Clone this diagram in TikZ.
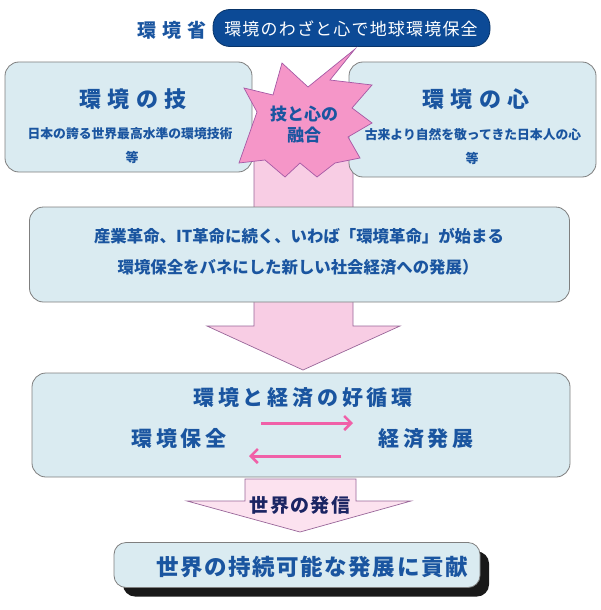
\documentclass[tikz,border=0pt]{standalone}
\usepackage{fontspec}
\setmainfont{Noto Sans CJK JP}
\newfontfamily\jpwide{Noto Sans CJK JP}[LetterSpace=30]
\newfontfamily\jpmid{Noto Sans CJK JP}[LetterSpace=18]
\newfontfamily\jpnarrow{Noto Sans CJK JP}[LetterSpace=7]
\usetikzlibrary{arrows.meta, shadows}
\definecolor{boxblue}{HTML}{DAEBF1}
\definecolor{boxgray}{HTML}{7F7F7F}
\definecolor{txtblue}{HTML}{1A55A0}
\definecolor{navy}{HTML}{1B2563}
\definecolor{banner}{HTML}{0C4A96}
\definecolor{starpink}{HTML}{F596C8}
\definecolor{shaftpink}{HTML}{F8CDE4}
\definecolor{palepink}{HTML}{FCE2EF}
\definecolor{arrowpink}{HTML}{F060A8}
\tikzset{panel/.style={draw=boxgray, fill=boxblue, line width=0.8pt, rounded corners=14pt},
  blockarrow/.style={draw=boxgray!80!magenta, line width=0.7pt, fill=shaftpink},
  lbl/.style={text=txtblue, inner sep=0pt},
  flow/.style={draw=arrowpink, line width=3pt, -{Straight Barb[length=7pt, width=14pt, line width=2.5pt]}}}

\begin{document}
\begin{tikzpicture}[x=1pt, y=-1pt]
\useasboundingbox (0,0) rectangle (600,610);
\draw[blockarrow] (254,150) -- (353,150) -- (353,326) -- (400,326) -- (303,370) -- (207,326) -- (254,326) -- cycle;
\node[lbl, font=\jpwide\bfseries\fontsize{19}{22}\selectfont] (ministry) at (172,30) {環境省};
\node[draw=banner!70!black, fill=banner, rounded corners=17pt, minimum width=277pt, minimum height=37pt, line width=0.8pt] (motto) at (351.5,28) {};
\node[text=white, inner sep=0pt, font=\jpnarrow\fontsize{17}{20}\selectfont] (mottotext) at (351,29) {環境のわざと心で地球環境保全};
\node[panel, minimum width=247pt, minimum height=110pt] (waza) at (128.5,117) {};
\node[lbl, font=\jpwide\bfseries\fontsize{22}{26}\selectfont] (wazatitle) at (133,99) {環境の技};
\node[lbl, font=\bfseries\fontsize{12.8}{15}\selectfont] (wazasub) at (130,134) {日本の誇る世界最高水準の環境技術};
\node[lbl, font=\bfseries\fontsize{13}{15}\selectfont] (wazatou) at (132,157) {等};
\node[panel, minimum width=247pt, minimum height=115pt] (kokoro) at (472.5,119.5) {};
\node[lbl, font=\jpwide\bfseries\fontsize{22}{26}\selectfont] (kokorotitle) at (476,99) {環境の心};
\node[lbl, font=\bfseries\fontsize{12.8}{15}\selectfont] (kokorosub) at (473,135) {古来より自然を敬ってきた日本人の心};
\node[lbl, font=\bfseries\fontsize{13}{15}\selectfont] (kokorotou) at (472,158) {等};
\draw[draw=boxgray!70!magenta, line width=0.7pt, fill=starpink] (355,49) -- (308,87) -- (282,63) -- (273,95) -- (244,88) -- (257,112) -- (239,163) -- (265,160) -- (285,177) -- (300,163) -- (317,177) -- (335,163) -- (360,158) -- (348,137) -- (372,123) -- (352,108) -- (372,85) -- (330,80) -- cycle;
\node[lbl, align=center, font=\bfseries\fontsize{17}{21}\selectfont] (yugo) at (304,125) {技と心の\\融合};
\node[panel, minimum width=540pt, minimum height=95pt] (kakumei) at (299.5,254.5) {};
\node[lbl, font=\bfseries\fontsize{16.4}{19}\selectfont] (kakumei1) at (299,236) {産業革命、IT革命に続く、いわば「環境革命」が始まる};
\node[lbl, font=\bfseries\fontsize{16.4}{19}\selectfont] (kakumei2) at (298,267) {環境保全をバネにした新しい社会経済への発展）};
\node[panel, minimum width=538pt, minimum height=104pt] (junkan) at (301,425) {};
\node[lbl, font=\jpmid\bfseries\fontsize{21}{25}\selectfont] (junkantitle) at (303,398) {環境と経済の好循環};
\node[lbl, font=\jpmid\bfseries\fontsize{21}{25}\selectfont] (hozen) at (179,439) {環境保全};
\node[lbl, font=\jpmid\bfseries\fontsize{21}{25}\selectfont] (hatten) at (426,439) {経済発展};
\coordinate (r1) at (261,423);
\coordinate (r2) at (353,423);
\coordinate (l1) at (341,456);
\coordinate (l2) at (249,456);
\draw[flow] (r1) -- (r2);
\draw[flow] (l1) -- (l2);
\draw[blockarrow, fill=palepink] (245,479) -- (356,479) -- (356,501) -- (411,501) -- (300,532) -- (187,501) -- (245,501) -- cycle;
\node[text=navy, inner sep=0pt, font=\jpnarrow\bfseries\fontsize{19}{22}\selectfont] (hasshin) at (300,505) {世界の発信};
\node[panel, rounded corners=12pt, minimum width=366pt, minimum height=45pt, drop shadow={fill=black, opacity=0.9, shadow xshift=9pt, shadow yshift=-9pt}] (koken) at (297,565) {};
\node[lbl, font=\jpnarrow\bfseries\fontsize{22.5}{26}\selectfont] (kokentext) at (312,567) {世界の持続可能な発展に貢献};
\end{tikzpicture}
\end{document}
